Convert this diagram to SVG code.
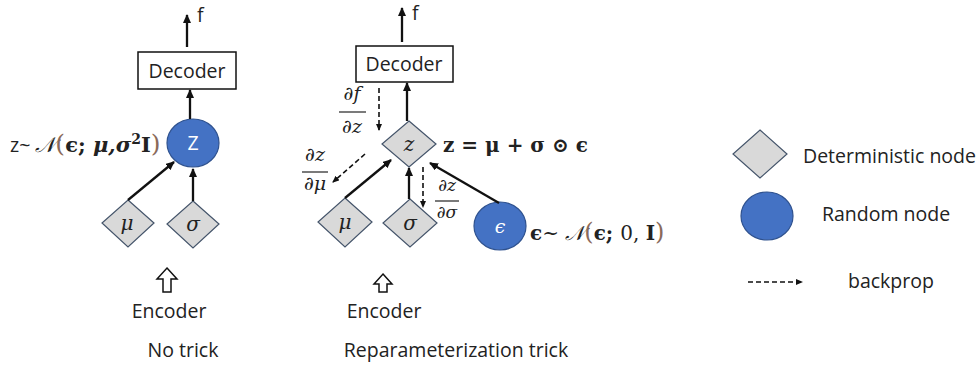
<svg xmlns="http://www.w3.org/2000/svg" width="980" height="371" viewBox="0 0 980 371">
<style>
.sans{font-family:"Open Sans","Liberation Sans",sans-serif;fill:#222;font-size:19.5px;}
.math{font-family:"DejaVu Serif","Liberation Serif",serif;fill:#222;}
.it{font-style:italic;}
.bd{font-weight:bold;}
.br{fill:#8a6a5a;font-weight:normal;}
.dia{fill:#d9d9d9;stroke:#44546a;stroke-width:1.2;}
.rnd{fill:#4472c4;stroke:#2f528f;stroke-width:1.2;}
.box{fill:#fff;stroke:#111;stroke-width:1.5;}
.edge{stroke:#111;stroke-width:2.3;fill:none;marker-end:url(#ah);}
.dash{stroke:#111;stroke-width:1.6;fill:none;stroke-dasharray:5 3;marker-end:url(#dh);}
.frac{stroke:#222;stroke-width:1.2;}
</style>
<defs>
<marker id="ah" markerUnits="userSpaceOnUse" markerWidth="10" markerHeight="10" refX="8" refY="4" orient="auto"><path d="M0,0 L9,4 L0,8 z" fill="#111"/></marker>
<marker id="dh" markerUnits="userSpaceOnUse" markerWidth="8" markerHeight="8" refX="6" refY="3" orient="auto"><path d="M0,0 L7,3 L0,6 z" fill="#111"/></marker>
</defs>
<rect width="980" height="371" fill="#fff"/>

<!-- Left: no trick -->
<g id="decoder1"><rect class="box" x="138" y="52" width="98" height="37"/><text class="sans" x="187" y="78" text-anchor="middle">Decoder</text></g>
<g id="z1"><ellipse class="rnd" cx="193" cy="143" rx="26" ry="24"/><text class="sans" x="193" y="150" text-anchor="middle" style="fill:#fff">Z</text></g>
<g id="mu1"><polygon class="dia" points="128,200 154,223 128,247 102,223"/><text class="math it" x="127" y="230" font-size="20" text-anchor="middle">μ</text></g>
<g id="sigma1"><polygon class="dia" points="193,201 219,224 193,248 167,224"/><text class="math it" x="193" y="231" font-size="20" text-anchor="middle">σ</text></g>
<g id="enc1"><path d="M167,268 L177,279 L171,279 L171,292 L163,292 L163,279 L157,279 Z" fill="#fff" stroke="#111" stroke-width="1.5"/><text class="sans" x="169" y="318" text-anchor="middle">Encoder</text></g>
<text class="math" x="10" y="152" font-size="21"><tspan class="sans">z~ </tspan><tspan font-style="italic">𝒩</tspan><tspan class="br" font-size="25">(</tspan><tspan class="bd">ϵ; </tspan><tspan class="bd it">μ,σ</tspan><tspan class="bd" font-size="14" dy="-8">2</tspan><tspan class="bd" dy="8">I</tspan><tspan class="br" font-size="25">)</tspan></text>
<text class="sans" x="183" y="357" text-anchor="middle">No trick</text>
<text class="sans" x="197" y="22">f</text>

<!-- Middle: reparameterization -->
<g id="decoder2"><rect class="box" x="356" y="46" width="97" height="36"/><text class="sans" x="404" y="71" text-anchor="middle">Decoder</text></g>
<g id="z2"><polygon class="dia" points="409,121 436,144 409,167 382,144"/><text class="math it" x="409" y="151" font-size="20" text-anchor="middle">z</text></g>
<g id="mu2"><polygon class="dia" points="345,198 372,222 345,247 318,222"/><text class="math it" x="345" y="229" font-size="20" text-anchor="middle">μ</text></g>
<g id="sigma2"><polygon class="dia" points="410,199 437,223 410,247 383,223"/><text class="math it" x="410" y="230" font-size="20" text-anchor="middle">σ</text></g>
<g id="eps"><ellipse class="rnd" cx="500" cy="226" rx="26" ry="24"/><text class="math it" x="500" y="233" font-size="19" text-anchor="middle" style="fill:#fff">ϵ</text></g>
<g id="enc2"><path d="M383,274 L392,284 L387,284 L387,292 L379,292 L379,284 L374,284 Z" fill="#fff" stroke="#111" stroke-width="1.5"/><text class="sans" x="384" y="318" text-anchor="middle">Encoder</text></g>
<text class="sans" x="412" y="20">f</text>
<text class="math bd" x="443" y="152" font-size="20">z = μ + σ ⊙ ϵ</text>
<text class="math" x="530" y="240" font-size="20"><tspan class="bd">ϵ</tspan><tspan>~ </tspan><tspan font-style="italic">𝒩</tspan><tspan class="br" font-size="24">(</tspan><tspan class="bd">ϵ; </tspan><tspan>0, </tspan><tspan class="bd">I</tspan><tspan class="br" font-size="24">)</tspan></text>
<text class="sans" x="456" y="357" text-anchor="middle">Reparameterization trick</text>
<g id="fracs">
<text class="math it" x="352" y="100" font-size="19" text-anchor="middle">∂f</text><line class="frac" x1="339" y1="112" x2="366" y2="112"/><text class="math it" x="352" y="133" font-size="19" text-anchor="middle">∂z</text>
<text class="math it" x="315" y="161" font-size="19" text-anchor="middle">∂z</text><line class="frac" x1="302" y1="172" x2="328" y2="172"/><text class="math it" x="315" y="190" font-size="19" text-anchor="middle">∂μ</text>
<text class="math it" x="447" y="191" font-size="17" text-anchor="middle">∂z</text><line class="frac" x1="435" y1="201" x2="459" y2="201"/><text class="math it" x="447" y="218" font-size="17" text-anchor="middle">∂σ</text>
</g>

<!-- Legend -->
<g id="legend-det"><polygon class="dia" points="760,130 787,154 760,178 733,154"/><text class="sans" x="803" y="163">Deterministic node</text></g>
<g id="legend-rnd"><ellipse class="rnd" cx="767" cy="216" rx="26" ry="24"/><text class="sans" x="822" y="221">Random node</text></g>
<g id="legend-bp"><line class="dash" x1="748" y1="282" x2="802" y2="282"/><text class="sans" x="848" y="288">backprop</text></g>

<g id="connectors">
<line class="edge" x1="187" y1="47" x2="187" y2="15"/>
<line class="edge" x1="190" y1="119" x2="190" y2="90"/>
<line class="edge" x1="128" y1="200" x2="174" y2="162"/>
<line class="edge" x1="193" y1="201" x2="193" y2="169"/>
<line class="edge" x1="402" y1="42" x2="402" y2="8"/>
<line class="edge" x1="407" y1="121" x2="407" y2="83"/>
<line class="edge" x1="345" y1="198" x2="391" y2="160"/>
<line class="edge" x1="409" y1="199" x2="409" y2="168"/>
<line class="edge" x1="499" y1="203" x2="430" y2="163"/>
<line class="dash" x1="379" y1="88" x2="379" y2="130"/>
<line class="dash" x1="365" y1="154" x2="333" y2="182"/>
<line class="dash" x1="423" y1="167" x2="423" y2="207"/>
</g>
</svg>
